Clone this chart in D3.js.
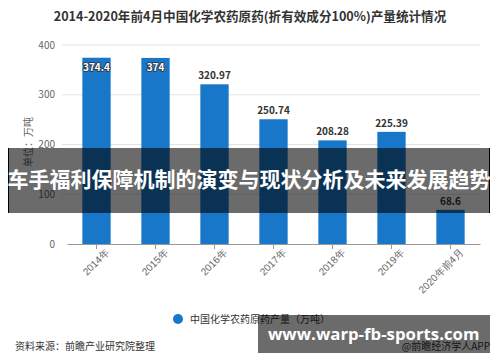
<!DOCTYPE html>
<html>
<head>
<meta charset="utf-8">
<script src="https://cdn.jsdelivr.net/npm/d3@7"></script>
<style>
  body { margin: 0; background: #fff; }
  svg { display: block; font-family: "Noto Sans CJK SC", "Noto Sans", sans-serif; }
</style>
</head>
<body>
<script>
// 年份 & 产量（万吨）
const years = ["2014年", "2015年", "2016年", "2017年", "2018年", "2019年", "2020年前4月"];
const output = [374.4, 374, 320.97, 250.74, 208.28, 225.39, 68.6];
const yTicks = [0, 100, 200, 300, 400];

const width = 500, height = 362;
const barColor = "#1877c9";

const svg = d3.select("body").append("svg")
  .attr("width", width)
  .attr("height", height);

const x = d3.scaleBand()
  .domain(years)
  .range([67, 480])
  .paddingInner(0.52)
  .paddingOuter(0.26);

const y = d3.scaleLinear()
  .domain([0, 400])
  .range([244, 45]);

// 标题
svg.append("text")
  .attr("x", 250).attr("y", 21)
  .attr("text-anchor", "middle")
  .attr("font-size", 12.6).attr("font-weight", "bold")
  .attr("fill", "#333")
  .text("2014-2020年前4月中国化学农药原药(折有效成分100%)产量统计情况");

// 网格线
svg.append("g")
  .selectAll("line")
  .data(yTicks.slice(1))
  .join("line")
  .attr("x1", 62).attr("x2", 480)
  .attr("y1", d => y(d)).attr("y2", d => y(d))
  .attr("stroke", "#e3e3e3");

// y 轴刻度文字
svg.append("g")
  .selectAll("text")
  .data(yTicks)
  .join("text")
  .attr("x", 55).attr("y", d => y(d))
  .attr("dy", "0.35em")
  .attr("text-anchor", "end")
  .attr("font-size", 10).attr("fill", "#666")
  .text(d => d);

// 单位
svg.append("text")
  .attr("transform", "translate(28,142) rotate(-90)")
  .attr("text-anchor", "middle")
  .attr("dy", "0.35em")
  .attr("font-size", 10).attr("fill", "#666")
  .text("单位：万吨");

// 柱子
svg.append("g")
  .selectAll("rect")
  .data(output)
  .join("rect")
  .attr("x", (d, i) => x(years[i]))
  .attr("width", x.bandwidth())
  .attr("y", d => y(d))
  .attr("height", d => y(0) - y(d))
  .attr("fill", barColor);

// x 轴
const xAxis = d3.axisBottom(x).tickSize(5).tickSizeOuter(0);
const gx = svg.append("g")
  .attr("transform", `translate(0,${y(0)})`)
  .call(xAxis);
gx.select(".domain").attr("stroke", "#999");
gx.selectAll(".tick line").attr("stroke", "#999");
gx.selectAll(".tick text")
  .attr("font-size", 10).attr("fill", "#666")
  .attr("text-anchor", "end")
  .attr("transform", "translate(4,0) rotate(-45)")
  .attr("dy", "0.5em").attr("y", 8).attr("x", 0);

// 数值标签
svg.append("g")
  .selectAll("text")
  .data(output)
  .join("text")
  .attr("x", (d, i) => x(years[i]) + x.bandwidth() / 2)
  .attr("y", d => d > 350 ? y(d) + 13 : y(d) - 5)
  .attr("text-anchor", "middle")
  .attr("font-size", 10).attr("font-weight", "bold")
  .attr("fill", d => d > 350 ? "#fff" : "#333")
  .attr("stroke", d => d > 350 ? "#333" : "none")
  .attr("stroke-width", 1.6)
  .attr("paint-order", "stroke")
  .text(d => d);

// 图例
svg.append("circle")
  .attr("cx", 178).attr("cy", 319).attr("r", 5)
  .attr("fill", barColor);
svg.append("text")
  .attr("x", 190).attr("y", 319).attr("dy", "0.35em")
  .attr("font-size", 10).attr("fill", "#333")
  .text("中国化学农药原药产量（万吨）");

// 资料来源
svg.append("text")
  .attr("x", 15).attr("y", 346).attr("dy", "0.35em")
  .attr("font-size", 10).attr("fill", "#333")
  .text("资料来源：前瞻产业研究院整理");
svg.append("text")
  .attr("x", 490).attr("y", 346).attr("dy", "0.35em")
  .attr("text-anchor", "end")
  .attr("font-size", 10).attr("fill", "#333")
  .text("@前瞻经济学人APP");

// 覆盖横幅
svg.append("rect")
  .attr("x", 8).attr("y", 148).attr("width", 482).attr("height", 65)
  .attr("fill", "rgba(0,0,0,0.58)");
svg.append("line")
  .attr("x1", 8.5).attr("x2", 8.5).attr("y1", 148).attr("y2", 213)
  .attr("stroke", "#000");
svg.append("line")
  .attr("x1", 489.5).attr("x2", 489.5).attr("y1", 148).attr("y2", 213)
  .attr("stroke", "#000");
svg.append("text")
  .attr("x", 249).attr("y", 180).attr("dy", "0.35em")
  .attr("text-anchor", "middle")
  .attr("font-size", 21).attr("font-weight", "bold")
  .attr("fill", "#fff")
  .text("车手福利保障机制的演变与现状分析及未来发展趋势");

// 网址框
svg.append("rect")
  .attr("x", 258).attr("y", 315).attr("width", 232).attr("height", 38)
  .attr("fill", "rgba(0,0,0,0.58)");
svg.append("text")
  .attr("x", 268).attr("y", 334).attr("dy", "0.35em")
  .attr("font-size", 16.8).attr("font-weight", "bold")
  .attr("fill", "#fff")
  .attr("font-family", "'Open Sans', 'DejaVu Sans', sans-serif")
  .text("www.warp-fb-sports.com");
</script>
</body>
</html>
